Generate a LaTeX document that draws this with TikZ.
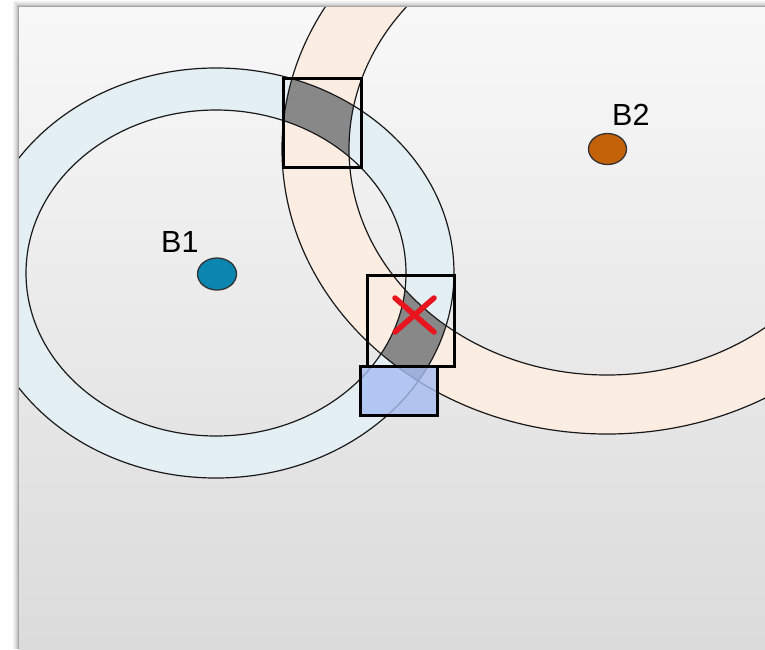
\documentclass[tikz,border=0pt]{standalone}
\usepackage{fontspec}
\setmainfont{Liberation Sans}
\definecolor{ringblue}{RGB}{228,239,244}
\definecolor{ringpeach}{RGB}{252,237,227}
\definecolor{isect}{RGB}{136,136,136}
\definecolor{boxblue}{RGB}{165,188,240}
\definecolor{dotblue}{RGB}{10,134,176}
\definecolor{dotorange}{RGB}{196,98,10}
\definecolor{xred}{RGB}{232,20,30}
\begin{document}
\begin{tikzpicture}[x=1pt,y=-1pt,
  ringline/.style={draw=black!90, line width=1.2pt},
  selbox/.style={draw=black, line width=3pt},
  lbl/.style={font=\fontsize{30.5}{36}\selectfont, inner sep=0pt, anchor=base west},
  dot/.style={draw=black!80, line width=1.3pt}]
\useasboundingbox (0,0) rectangle (765,649);
% page background and slide shadow
\fill[white] (0,0) rectangle (765,649);
\foreach \d/\o in {6/0.05,5/0.08,4/0.12,3/0.17,2/0.24,1/0.35}{
  \draw[black, opacity=\o, line width=1pt] (19-\d,649) -- (19-\d,7-\d) -- (765,7-\d);
}
\shade[top color={rgb,255:red,248;green,248;blue,248}, bottom color={rgb,255:red,219;green,219;blue,219}] (19,7) rectangle (765,649);
\begin{scope}
\clip (19,7) rectangle (765,649);
% ring fills
\fill[ringblue, even odd rule] (216,273) ellipse [x radius=238pt, y radius=205pt]
  (216,273) ellipse [x radius=190pt, y radius=163pt];
\fill[ringpeach, even odd rule] (607,149) ellipse [x radius=325pt, y radius=285pt]
  (607,149) ellipse [x radius=258pt, y radius=226pt];
% intersection of rings
\begin{scope}
  \clip (607,149) ellipse [x radius=325pt, y radius=285pt];
  \fill[isect, even odd rule] (216,273) ellipse [x radius=238pt, y radius=205pt]
    (216,273) ellipse [x radius=190pt, y radius=163pt];
\end{scope}
\begin{scope}
  \clip (607,149) ellipse [x radius=258pt, y radius=226pt];
  \fill[ringblue, even odd rule] (216,273) ellipse [x radius=238pt, y radius=205pt]
    (216,273) ellipse [x radius=190pt, y radius=163pt];
\end{scope}
% ring outlines
\draw[ringline] (216,273) ellipse [x radius=238pt, y radius=205pt];
\draw[ringline] (216,273) ellipse [x radius=190pt, y radius=163pt];
\draw[ringline] (607,149) ellipse [x radius=325pt, y radius=285pt];
\draw[ringline] (607,149) ellipse [x radius=258pt, y radius=226pt];
% boxes
\draw[selbox] (283,78) rectangle (361,167);
\draw[selbox] (367,275) rectangle (454,366);
\fill[boxblue, fill opacity=0.8] (360,366) rectangle (437,415);
\draw[selbox] (360,366) rectangle (437,415);
% red cross
\coordinate (xa) at (395,298);
\coordinate (xb) at (434,332);
\coordinate (xc) at (395,332);
\coordinate (xd) at (434,298);
\draw[xred, line width=5.5pt, line cap=round] (xa) -- (xb);
\draw[xred, line width=5.5pt, line cap=round] (xc) -- (xd);
% base stations
\filldraw[dot, fill=dotblue] (217,274) ellipse [x radius=19.5pt, y radius=16pt];
\filldraw[dot, fill=dotorange] (607.5,149) ellipse [x radius=19pt, y radius=15.5pt];
\node[lbl] (b1) at (161,252) {B1};
\node[lbl] (b2) at (612,125) {B2};
\end{scope}
\end{tikzpicture}
\end{document}
